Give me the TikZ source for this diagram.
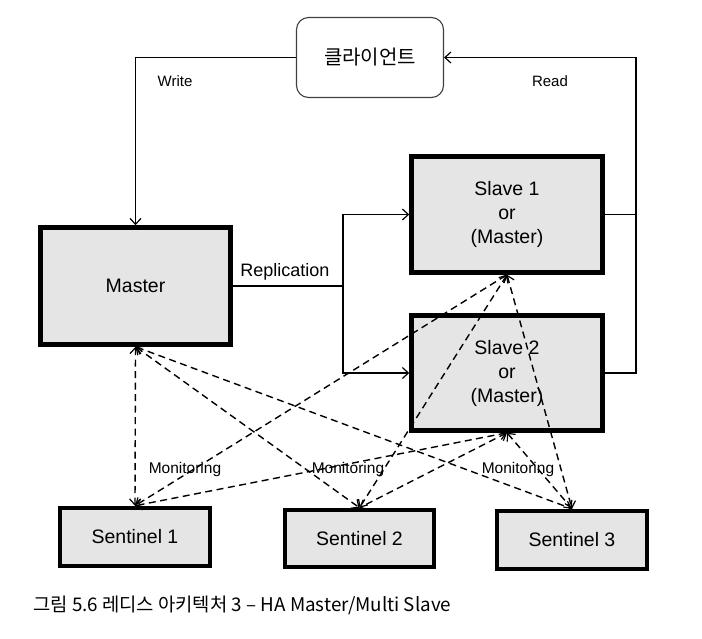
\documentclass[tikz,border=0pt]{standalone}
\usepackage{fontspec}
\setmainfont{Liberation Sans}
\newfontfamily\kr{Noto Sans CJK KR}
\usetikzlibrary{arrows.meta,calc}
\tikzset{
  >={Straight Barb[length=6pt,width=11pt,line width=1.2pt]},
  server/.style={draw=black,line width=4.5pt,fill=black!10,align=center,
    font=\fontsize{19.5}{24}\selectfont,inner sep=0pt},
  client/.style={draw=black!75,line width=1.1pt,rounded corners=12pt,fill=white,inner sep=0pt},
  wire/.style={line width=1.2pt,draw=black},
  mon/.style={line width=1.4pt,dash pattern=on 7pt off 4.5pt,<->},
  lbl/.style={font=\fontsize{15}{18}\selectfont,inner sep=0pt},
  mlbl/.style={font=\fontsize{15.5}{18}\selectfont,inner sep=1pt}
}
\begin{document}
\begin{tikzpicture}[x=1pt,y=-1pt]
\useasboundingbox (0,0) rectangle (702,638);
% nodes
\node[client,minimum width=147pt,minimum height=80pt] (client) at (370,57.5) {\kr\fontsize{20}{24}\selectfont 클라이언트};
\node[server,minimum width=190pt,minimum height=117pt] (master) at (135.5,286) {Master};
\node[server,minimum width=191pt,minimum height=116pt] (slave1) at (507,214.5) {Slave 1\\or\\(Master)};
\node[server,minimum width=191pt,minimum height=115pt] (slave2) at (507,373) {Slave 2\\or\\(Master)};
\node[server,minimum width=150pt,minimum height=58pt] (s1) at (135,537) {Sentinel 1};
\node[server,minimum width=149pt,minimum height=57pt] (s2) at (359.5,538.5) {Sentinel 2};
\node[server,minimum width=150pt,minimum height=58pt] (s3) at (572,540) {Sentinel 3};
% coordinates
\coordinate (rj) at (343,286);
\coordinate (rx) at (636,214.5);
% write
\draw[wire,->] (client.west) -| (master.north);
\node[lbl] (write) at (175,81) {Write};
% read
\draw[wire] (slave1.east) -- (rx);
\draw[wire,->] (slave2.east) -| (rx) |- (client.east);
\node[lbl] (read) at (550,81) {Read};
% replication
\draw[wire] (master.east) -- (rj);
\draw[wire,->] (rj) |- (slave1.west);
\draw[wire,->] (rj) |- (slave2.west);
\node[font=\fontsize{18}{21}\selectfont,inner sep=0pt] (repl) at (285,272) {Replication};
% monitoring
\draw[mon] (master.south) -- (s1.north);
\draw[mon] (master.south) -- (s2.north);
\draw[mon] (master.south) -- (s3.north);
\draw[mon] (slave1.south) -- (s1.north);
\draw[mon] (slave1.south) -- (s2.north);
\draw[mon] (slave1.south) -- (s3.north);
\draw[mon] (slave2.south) -- (s1.north);
\draw[mon] (slave2.south) -- (s2.north);
\draw[mon] (slave2.south) -- (s3.north);
\node[mlbl] (m1) at (185,469) {Monitoring};
\node[mlbl] (m2) at (348,469) {Monitoring};
\node[mlbl] (m3) at (518,469) {Monitoring};
% caption
\node[anchor=west,inner sep=0pt,font=\kr\fontsize{18.8}{22}\selectfont] (cap) at (33,605) {그림 5.6 레디스 아키텍처 3 – HA Master/Multi Slave};
\end{tikzpicture}
\end{document}
